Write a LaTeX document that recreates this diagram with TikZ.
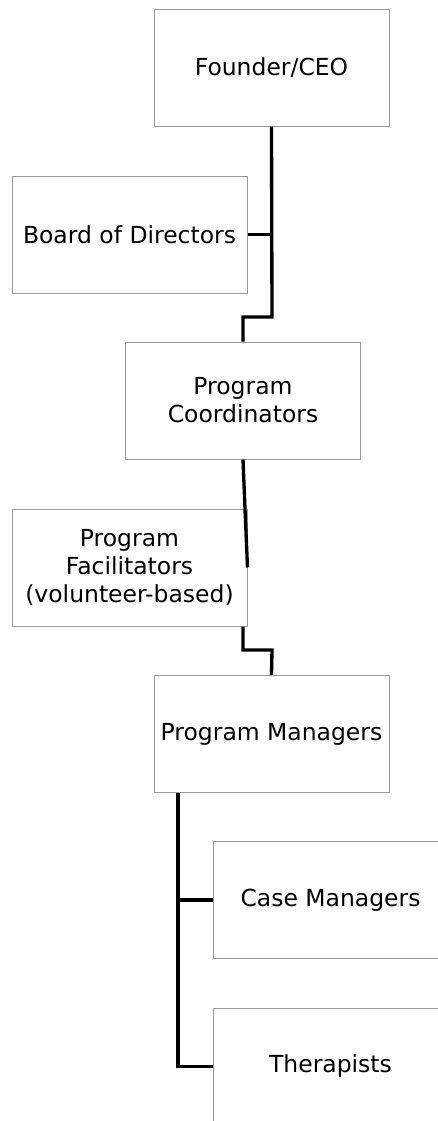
\documentclass[tikz,border=0pt]{standalone}
\usepackage{fontspec}
\setmainfont{DejaVu Sans}
\definecolor{boxgray}{HTML}{9A9A9A}
\begin{document}
\begin{tikzpicture}[x=0.75pt,y=-0.75pt,
  box/.style={draw=boxgray, line width=0.75pt, fill=white, minimum width=176.25pt, minimum height=87.75pt, inner sep=2pt, align=center, font=\fontsize{17.6}{21}\selectfont},
  link/.style={line width=2.5pt, black}]
\clip (0,0) rectangle (438,1121);
\fill[white] (0,0) rectangle (438,1121);
\node[box] (ceo) at (271.5,67.5) {Founder/CEO};
\node[box] (board) at (129.5,234.5) {Board of Directors};
\node[box] (coord) at (243,400.5) {Program\\Coordinators};
\node[box] (fac) at (129.5,567.5) {Program\\Facilitators\\(volunteer-based)};
\node[box] (mgr) at (271.5,734) {Program Managers};
\node[box] (case) at (330.5,900) {Case Managers};
\node[box] (ther) at (330.5,1066.5) {Therapists};
\coordinate (s1) at (272,317);
\coordinate (s2) at (243,317);
\coordinate (f1) at (245,509);
\coordinate (f2) at (243,650);
\coordinate (f3) at (272,650);
\coordinate (m1) at (178,793);
\coordinate (m2) at (178,900);
\coordinate (m3) at (178,1066.5);
\draw[link] (ceo.south) -- (s1) -- (s2) -- (coord.north);
\draw[link] (board.east) -- (ceo.south |- board.east);
\draw[link] (coord.south) -- (f1) -- (fac.east);
\draw[link] (fac.south -| f2) -- (f2) -- (f3) -- (mgr.north);
\draw[link] (m1) -- (m3) -- (ther.west);
\draw[link] (m2) -- (case.west);
\end{tikzpicture}
\end{document}
